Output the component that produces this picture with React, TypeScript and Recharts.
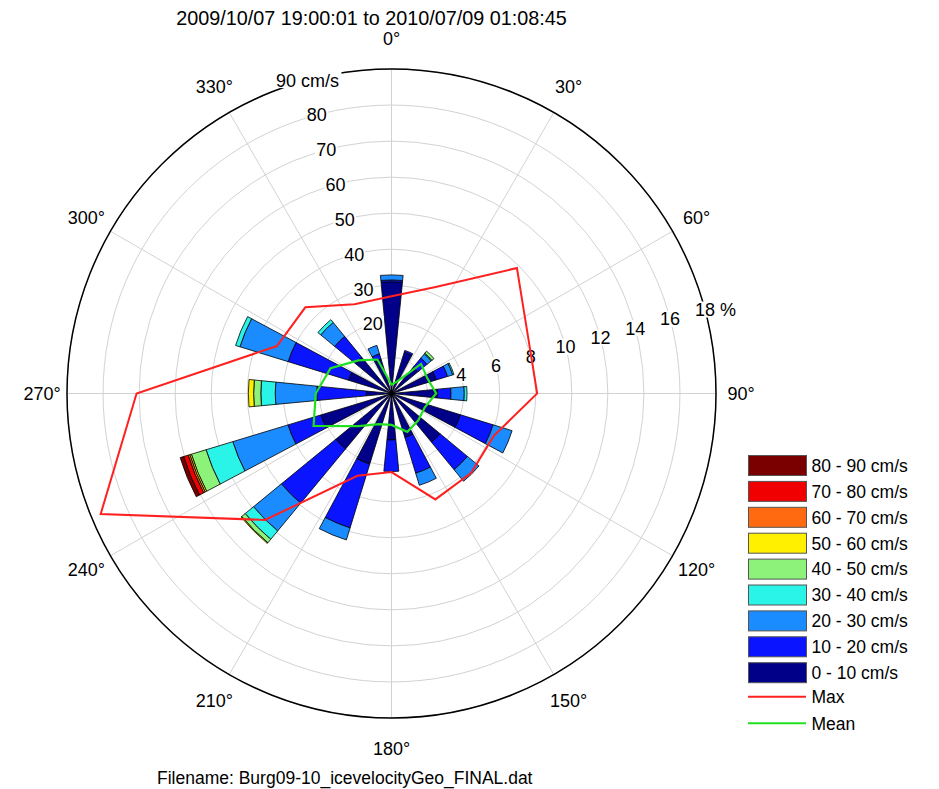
import React from "react";
import {
  RadarChart,
  Radar,
  RadialBarChart,
  RadialBar,
  PolarGrid,
  PolarAngleAxis,
  PolarRadiusAxis,
  Legend,
  Sector,
} from "recharts";

const W = 939;
const H = 789;
const CX = 391.5;
const CY = 393.5;
const R = 324.5;
const TICK_GAP = 30;
const FONT = '"Liberation Sans", Arial, Helvetica, sans-serif';
const NO_MARGIN = { top: 0, right: 0, bottom: 0, left: 0 };

// compass directions of the rose, degrees clockwise from north
const directions = [0, 22.5, 45, 67.5, 90, 112.5, 135, 157.5, 180, 202.5, 225, 247.5, 270, 292.5, 315, 337.5];
// half a sector: the wedges are centred on their direction
const HALF_SECTOR = 360 / directions.length / 2;

const speedBins = [
  "0 - 10 cm/s",
  "10 - 20 cm/s",
  "20 - 30 cm/s",
  "30 - 40 cm/s",
  "40 - 50 cm/s",
  "50 - 60 cm/s",
  "60 - 70 cm/s",
  "70 - 80 cm/s",
  "80 - 90 cm/s",
];
const binColors = ["#000088", "#0a14ff", "#1a8cff", "#2af4e8", "#8cf27a", "#fff000", "#ff6a10", "#f00000", "#7a0000"];

// frequency (%) of each speed bin per direction
const pct0to10 = [6.2, 2.4, 1.9, 2.6, 2.56, 4.0, 3.5, 2.55, 2.58, 4.1, 4.0, 4.1, 1.4, 2.5, 2.6, 2.0];
const pct10to20 = [0.1, 0.1, 0.65, 0.65, 0.74, 1.9, 1.97, 2.07, 1.75, 3.7, 3.9, 1.9, 2.75, 3.5, 1.5, 0.3];
const pct20to30 = [0.28, 0, 0.3, 0.3, 0.74, 1.1, 0.83, 0.7, 0, 0.7, 2.0, 3.2, 2.3, 2.8, 1.0, 0.49];
const pct30to40 = [0, 0, 0.05, 0.07, 0.15, 0, 0, 0, 0, 0, 0.6, 1.55, 0.8, 0.25, 0.2, 0];
const pct40to50 = [0, 0, 0.15, 0, 0, 0, 0, 0, 0, 0, 0.25, 0.85, 0.4, 0, 0, 0];
const pct50to60 = [0, 0, 0, 0, 0, 0, 0, 0, 0, 0, 0.05, 0.09, 0.29, 0, 0, 0];
const pct60to70 = [0, 0, 0, 0, 0, 0, 0, 0, 0, 0, 0, 0.1, 0, 0, 0, 0];
const pct70to80 = [0, 0, 0, 0, 0, 0, 0, 0, 0, 0, 0, 0.26, 0, 0, 0, 0];
const pct80to90 = [0, 0, 0, 0, 0, 0, 0, 0, 0, 0, 0, 0.2, 0, 0, 0, 0];
const binValues = [pct0to10, pct10to20, pct20to30, pct30to40, pct40to50, pct50to60, pct60to70, pct70to80, pct80to90];

// max and mean speed per direction (cm/s)
const maxSpeed = [27, 32, 49.2, 41, 40.4, 30.7, 31.2, 31.8, 21.8, 24.7, 49.6, 87.3, 70.7, 34.4, 33.8, 26.8];
const meanSpeed = [2.5, 3.4, 11.6, 10.8, 12.4, 10, 10.5, 11.5, 8.7, 9.2, 12.8, 23.4, 21, 18.3, 13, 10.2];

const compassTicks = [0, 30, 60, 90, 120, 150, 180, 210, 240, 270, 300, 330];
const pctTicks = [0, 2, 4, 6, 8, 10, 12, 14, 16, 18];
const speedTicks = [0, 10, 20, 30, 40, 50, 60, 70, 80, 90];

const roseRows = directions.map((dir, i) => {
  const row: Record<string, number> = { dir, max: maxSpeed[i], mean: meanSpeed[i] };
  binValues.forEach((vals, b) => {
    row[`b${b}`] = vals[i];
  });
  return row;
});
const compassRows = compassTicks.map((deg) => ({ deg }));

const label = { fontFamily: FONT, fontSize: 18, fill: "#000" };

// labels sit a bit further out at top/bottom than at the sides
const CompassTick = (props: any) => {
  const { x, y, payload } = props;
  const ux = (x - CX) / (R + TICK_GAP);
  const uy = (y - CY) / (R + TICK_GAP);
  const rr = 349.5 + 5.5 * Math.abs(uy);
  return (
    <text x={CX + ux * rr} y={CY + uy * rr} dy={6.5} textAnchor="middle" {...label}>
      {`${payload.value}°`}
    </text>
  );
};

// white box under the scale labels hides the rings behind them
const PctTick = (props: any) => {
  const { x, y, payload } = props;
  if (payload.value < 4) return <g />;
  const last = payload.value === 18;
  return (
    <g>
      <rect x={x - 11} y={y - 8} width={last ? 44 : 22} height={16} fill="#fff" />
      <text x={x} y={y} dy={6.5} textAnchor="middle" {...label}>
        {payload.value}
      </text>
      {last && (
        <text x={x + 10} y={y} dy={6.5} textAnchor="start" {...label}>
          {"\u00a0%"}
        </text>
      )}
    </g>
  );
};

const SpeedTick = (props: any) => {
  const { x, y, payload } = props;
  if (payload.value < 20) return <g />;
  const text = payload.value === 90 ? "90 cm/s" : String(payload.value);
  const w = payload.value === 90 ? 68 : 22;
  return (
    <g>
      <rect x={x - w / 2} y={y - 8} width={w} height={16} fill="#fff" />
      <text x={x} y={y} dy={6.5} textAnchor="middle" {...label}>
        {text}
      </text>
    </g>
  );
};

// zero-height stack pieces would otherwise leave black arcs at the tips
const RoseSector = (props: any) =>
  props.outerRadius - props.innerRadius > 0.05 ? <Sector {...props} /> : <g />;

const ROW = 25.9;

const RoseLegend = () => (
  <svg width={180} height={285} style={{ fontFamily: FONT, display: "block" }}>
    {speedBins.map((name, b) => {
      const y = (speedBins.length - 1 - b) * ROW;
      return (
        <g key={name}>
          <rect x={0.5} y={y + 0.5} width={58} height={20} fill={binColors[b]} stroke="#555" />
          <text x={63.5} y={y + 16.8} fontSize={17.5} fill="#000">
            {name}
          </text>
        </g>
      );
    })}
    <line x1={0} x2={58} y1={241.7} y2={241.7} stroke="#ff2020" strokeWidth={2} />
    <text x={63.5} y={248} fontSize={17.5} fill="#000">Max</text>
    <line x1={0} x2={58} y1={268.3} y2={268.3} stroke="#20e020" strokeWidth={2} />
    <text x={63.5} y={274.6} fontSize={17.5} fill="#000">Mean</text>
  </svg>
);

const layer: React.CSSProperties = { position: "absolute", left: 0, top: 0 };

export default function App() {
  return (
    <div style={{ position: "absolute", left: 0, top: 0, width: W, height: H, background: "#fff" }}>
      {/* grid, compass labels and % scale */}
      <div style={layer}>
        <RadarChart width={W} height={H} data={compassRows} cx={CX} cy={CY} innerRadius={0} outerRadius={R} startAngle={90} endAngle={-270} margin={NO_MARGIN}>
          <PolarGrid gridType="circle" stroke="#d2d2d2" />
          <PolarAngleAxis
            dataKey="deg"
            axisLineType="circle"
            axisLine={{ stroke: "#000", strokeWidth: 1.5 }}
            stroke="#000"
            tickLine={false}
            tickSize={TICK_GAP}
            tick={<CompassTick />}
          />
          <PolarRadiusAxis
            type="number"
            angle={15}
            domain={[0, 18]}
            allowDataOverflow
            ticks={pctTicks}
            tickCount={10}
            axisLine={false}
            tickLine={false}
            tick={<PctTick />}
          />
        </RadarChart>
      </div>

      {/* stacked frequency wedges */}
      <div style={layer}>
        <RadialBarChart
          width={W}
          height={H}
          data={roseRows}
          layout="centric"
          cx={CX}
          cy={CY}
          innerRadius={0}
          outerRadius={R}
          startAngle={90 - HALF_SECTOR}
          endAngle={-270 - HALF_SECTOR}
          barCategoryGap="25%"
          margin={NO_MARGIN}
        >
          <PolarAngleAxis type="category" dataKey="dir" tick={false} tickLine={false} axisLine={false} />
          <PolarRadiusAxis type="number" domain={[0, 18]} allowDataOverflow tick={false} axisLine={false} />
          {speedBins.map((name, b) => (
            <RadialBar
              key={name}
              name={name}
              dataKey={`b${b}`}
              stackId="rose"
              fill={binColors[b]}
              stroke="#000"
              strokeWidth={0.8}
              shape={RoseSector}
              isAnimationActive={false}
            />
          ))}
        </RadialBarChart>
      </div>

      {/* max / mean speed outlines with cm/s scale */}
      <div style={layer}>
        <RadarChart width={W} height={H} data={roseRows} cx={CX} cy={CY} innerRadius={0} outerRadius={R} startAngle={90} endAngle={-270} margin={NO_MARGIN}>
          <PolarAngleAxis dataKey="dir" tick={false} tickLine={false} axisLine={false} />
          <PolarRadiusAxis
            type="number"
            angle={105}
            domain={[0, 90]}
            allowDataOverflow
            ticks={speedTicks}
            tickCount={10}
            axisLine={false}
            tickLine={false}
            tick={<SpeedTick />}
          />
          <Radar name="Max" dataKey="max" stroke="#ff2020" strokeWidth={2} fill="none" fillOpacity={0} dot={false} isAnimationActive={false} />
          <Radar name="Mean" dataKey="mean" stroke="#20e020" strokeWidth={2.2} fill="none" fillOpacity={0} dot={false} isAnimationActive={false} />
          <Legend
            layout="vertical"
            align="right"
            verticalAlign="top"
            content={<RoseLegend />}
            wrapperStyle={{ left: 748, top: 455, right: "auto", width: 180 }}
          />
        </RadarChart>
      </div>

      <svg width={W} height={H} style={{ ...layer, pointerEvents: "none" }}>
        <text x={371.5} y={24.5} textAnchor="middle" fontFamily={FONT} fontSize={19.8} fill="#000">
          2009/10/07 19:00:01 to 2010/07/09 01:08:45
        </text>
        <text x={157} y={784} fontFamily={FONT} fontSize={17.5} fill="#000">
          Filename: Burg09-10_icevelocityGeo_FINAL.dat
        </text>
      </svg>
    </div>
  );
}
